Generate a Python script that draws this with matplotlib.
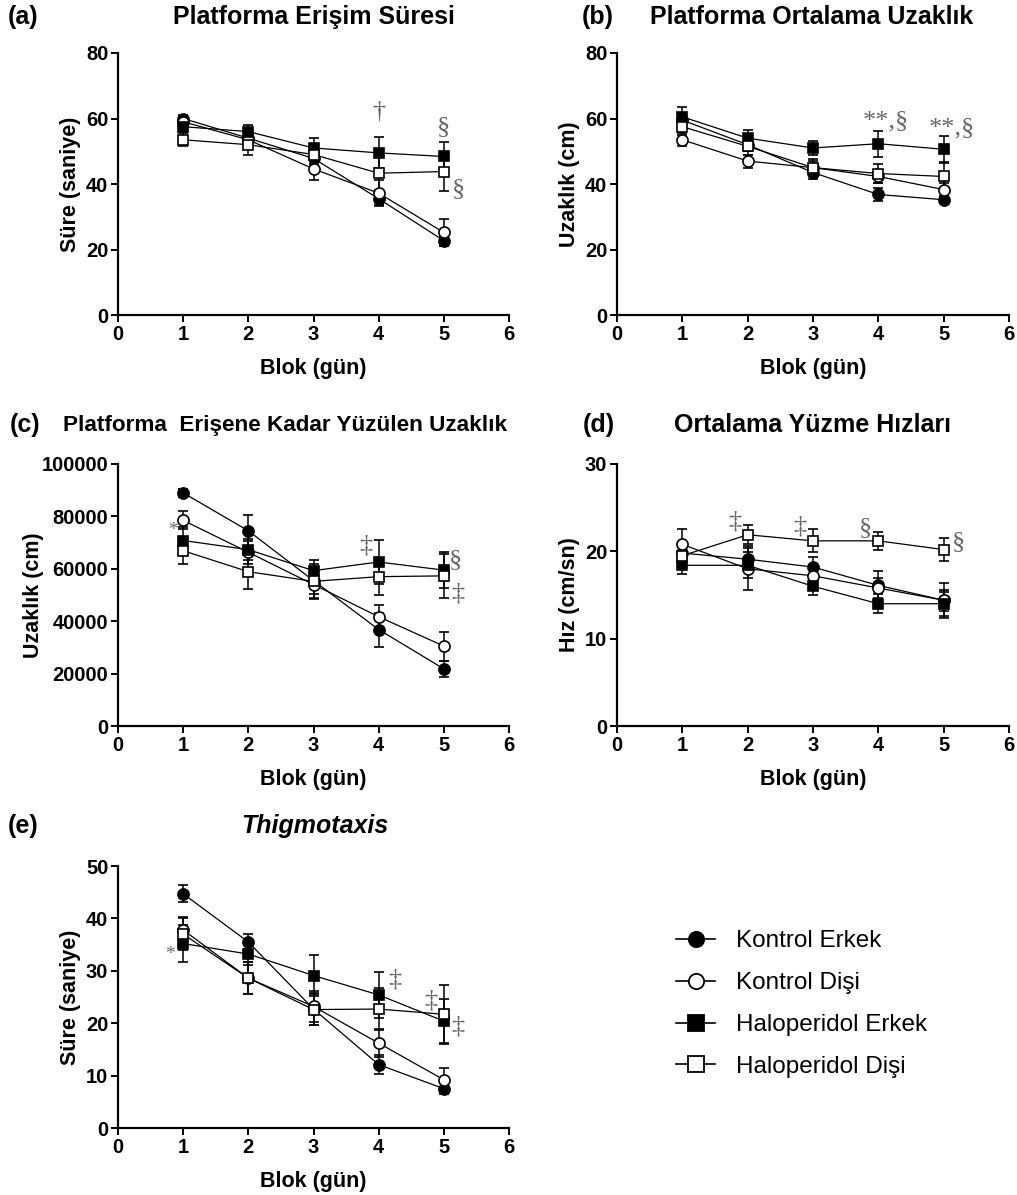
import numpy as np
import matplotlib
matplotlib.use("Agg")
import matplotlib.pyplot as plt
from matplotlib.lines import Line2D

plt.rcParams['font.family'] = ['Liberation Sans', 'DejaVu Sans']

W, H = 1017, 1195

blocks = [1, 2, 3, 4, 5]
groups = ['Kontrol Erkek', 'Kontrol Dişi', 'Haloperidol Erkek', 'Haloperidol Dişi']

# (a) Platforma Erişim Süresi
a_ke = [60.0, 54.0, 47.8, 35.5, 22.7]
a_ke_err = [1.0, 1.5, 2.0, 2.0, 1.5]
a_kd = [59.0, 53.5, 44.6, 37.2, 25.2]
a_kd_err = [1.5, 2.0, 3.4, 4.0, 4.2]
a_he = [57.5, 56.0, 51.0, 49.5, 48.4]
a_he_err = [1.5, 2.0, 3.0, 4.7, 4.3]
a_hd = [53.5, 52.0, 49.0, 43.3, 43.8]
a_hd_err = [2.0, 3.0, 3.0, 5.0, 6.0]

# (b) Platforma Ortalama Uzaklık
b_ke = [59.5, 52.0, 43.5, 36.8, 35.2]
b_ke_err = [2.0, 2.0, 2.0, 2.0, 1.0]
b_kd = [53.5, 47.0, 45.0, 42.3, 38.3]
b_kd_err = [2.0, 2.0, 2.0, 2.0, 2.0]
b_he = [60.5, 54.0, 51.0, 52.3, 50.6]
b_he_err = [3.0, 2.5, 2.0, 4.0, 4.0]
b_hd = [57.5, 51.5, 45.0, 43.2, 42.3]
b_hd_err = [2.5, 2.5, 2.5, 3.0, 4.0]

# (c) Platforma Erişene Kadar Yüzülen Uzaklık
c_ke = [89000, 74500, 55500, 36800, 21800]
c_ke_err = [1500, 6000, 5000, 6500, 3000]
c_kd = [78500, 66300, 54000, 41700, 30500]
c_kd_err = [3500, 4500, 5500, 4500, 5500]
c_he = [70800, 67300, 59300, 62600, 59500]
c_he_err = [5000, 4000, 4000, 8500, 7000]
c_hd = [66900, 58900, 55200, 57000, 57300]
c_hd_err = [5000, 6500, 6500, 7000, 8500]

# (d) Ortalama Yüzme Hızları
d_ke = [19.8, 19.1, 18.2, 16.1, 14.4]
d_ke_err = [1.0, 1.5, 1.2, 1.7, 2.0]
d_kd = [20.8, 18.0, 17.2, 15.8, 14.4]
d_kd_err = [1.8, 2.4, 1.2, 1.2, 1.2]
d_he = [18.4, 18.4, 16.0, 14.0, 14.0]
d_he_err = [1.0, 1.5, 1.0, 1.1, 1.4]
d_hd = [19.5, 21.9, 21.2, 21.2, 20.2]
d_hd_err = [1.0, 1.1, 1.3, 1.0, 1.3]

# (e) Thigmotaxis
e_ke = [44.7, 35.5, 22.7, 12.1, 7.5]
e_ke_err = [1.6, 1.5, 3.0, 1.8, 1.0]
e_kd = [37.8, 28.6, 23.2, 16.2, 9.2]
e_kd_err = [2.5, 3.0, 3.0, 2.6, 2.2]
e_he = [35.2, 33.2, 29.1, 25.4, 20.4]
e_he_err = [3.5, 2.0, 4.0, 4.4, 4.3]
e_hd = [37.0, 28.6, 22.6, 22.7, 21.7]
e_hd_err = [3.0, 3.0, 3.0, 4.0, 5.5]

# significance marks (x, y, text)
a_sig = [(4.0, 62, '†'), (5.0, 57.5, '§'), (5.22, 38.5, '§')]
b_sig = [(4.12, 59, '**,§'), (5.12, 57, '**,§')]
c_sig = [(0.85, 74500, '*'), (3.8, 69000, '‡'), (5.18, 63500, '§'), (5.22, 50500, '‡')]
d_sig = [(1.8, 23.4, '‡'), (2.8, 22.9, '‡'), (3.8, 22.7, '§'), (5.22, 21.1, '§')]
e_sig = [(0.8, 33.2, '*'), (4.25, 28.3, '‡'), (4.8, 24.3, '‡'), (5.22, 19.4, '‡')]

styles = [('o', 'black', 8), ('o', 'white', 8), ('s', 'black', 7.5), ('s', 'white', 7.5)]

fig = plt.figure(figsize=(W / 100, H / 100), dpi=100)


def px_axes(x0, y0, x1, y1):
    return fig.add_axes([x0 / W, 1 - y1 / H, (x1 - x0) / W, (y1 - y0) / H])


def panel(ax, series, ymax, ystep, ylabel, sig, ylab_x=-0.095):
    for (m, fc, ms), (vals, err) in zip(styles, series):
        ax.errorbar(blocks, vals, yerr=err, color='black', lw=0.9, marker=m,
                    ms=ms, mfc=fc, mec='black', mew=1.2, elinewidth=1.1,
                    capsize=3.5, capthick=1.1)
    ax.set_xlim(0, 6)
    ax.set_ylim(0, ymax)
    ax.set_xticks(range(0, 7))
    ax.set_yticks(np.arange(0, ymax + 1, ystep))
    for s in ['top', 'right']:
        ax.spines[s].set_visible(False)
    for s in ['left', 'bottom']:
        ax.spines[s].set_linewidth(1.6)
    ax.tick_params(width=1.4, length=5, labelsize=14.5, pad=2)
    for t in ax.get_xticklabels() + ax.get_yticklabels():
        t.set_fontweight('bold')
    ax.set_xlabel('Blok (gün)', fontsize=15.5, fontweight='bold')
    ax.xaxis.set_label_coords(0.5, -0.163)
    ax.set_ylabel(ylabel, fontsize=15.5, fontweight='bold')
    ax.yaxis.set_label_coords(ylab_x, 0.5)
    for x, y, t in sig:
        fs = 14 if t == '*' else 19
        ax.text(x, y, t, fontsize=fs, color='#666666', ha='center', va='center',
                family=['Liberation Serif', 'DejaVu Serif'], clip_on=False)


ax_a = px_axes(118, 53, 509, 315)
panel(ax_a, [(a_ke, a_ke_err), (a_kd, a_kd_err), (a_he, a_he_err), (a_hd, a_hd_err)],
      80, 20, 'Süre (saniye)', a_sig)
ax_b = px_axes(617, 53, 1009, 315)
panel(ax_b, [(b_ke, b_ke_err), (b_kd, b_kd_err), (b_he, b_he_err), (b_hd, b_hd_err)],
      80, 20, 'Uzaklık (cm)', b_sig, ylab_x=-0.095)
ax_c = px_axes(118, 464, 509, 726)
panel(ax_c, [(c_ke, c_ke_err), (c_kd, c_kd_err), (c_he, c_he_err), (c_hd, c_hd_err)],
      100000, 20000, 'Uzaklık (cm)', c_sig, ylab_x=-0.19)
ax_d = px_axes(617, 464, 1009, 726)
panel(ax_d, [(d_ke, d_ke_err), (d_kd, d_kd_err), (d_he, d_he_err), (d_hd, d_hd_err)],
      30, 10, 'Hız (cm/sn)', d_sig, ylab_x=-0.095)
ax_e = px_axes(118, 866, 509, 1128)
panel(ax_e, [(e_ke, e_ke_err), (e_kd, e_kd_err), (e_he, e_he_err), (e_hd, e_hd_err)],
      50, 10, 'Süre (saniye)', e_sig)

# panel letters and titles
def ftext(x, y, s, size=18, **kw):
    fig.text(x / W, 1 - y / H, s, va='center', fontsize=size, fontweight='bold', **kw)

ftext(8, 17, '(a)')
ftext(314, 17, 'Platforma Erişim Süresi', ha='center')
ftext(582, 17, '(b)')
ftext(812, 17, 'Platforma Ortalama Uzaklık', ha='center')
ftext(10, 425, '(c)')
ftext(285, 425, 'Platforma  Erişene Kadar Yüzülen Uzaklık', size=16.2, ha='center')
ftext(583, 425, '(d)')
ftext(812, 425, 'Ortalama Yüzme Hızları', ha='center')
ftext(8, 826, '(e)')
ftext(315, 826, 'Thigmotaxis', ha='center', style='italic')

handles = [Line2D([], [], color='black', lw=1.2, marker=m, ms=11, mfc=fc,
                  mec='black', mew=1.3) for m, fc, ms in styles]
fig.legend(handles, groups, loc='upper left', bbox_to_anchor=(664 / W, 1 - 918 / H),
           frameon=False, fontsize=17.5, handlelength=1.6, handletextpad=0.85,
           labelspacing=0.82, borderpad=0)

fig.savefig('out.png', dpi=100)
